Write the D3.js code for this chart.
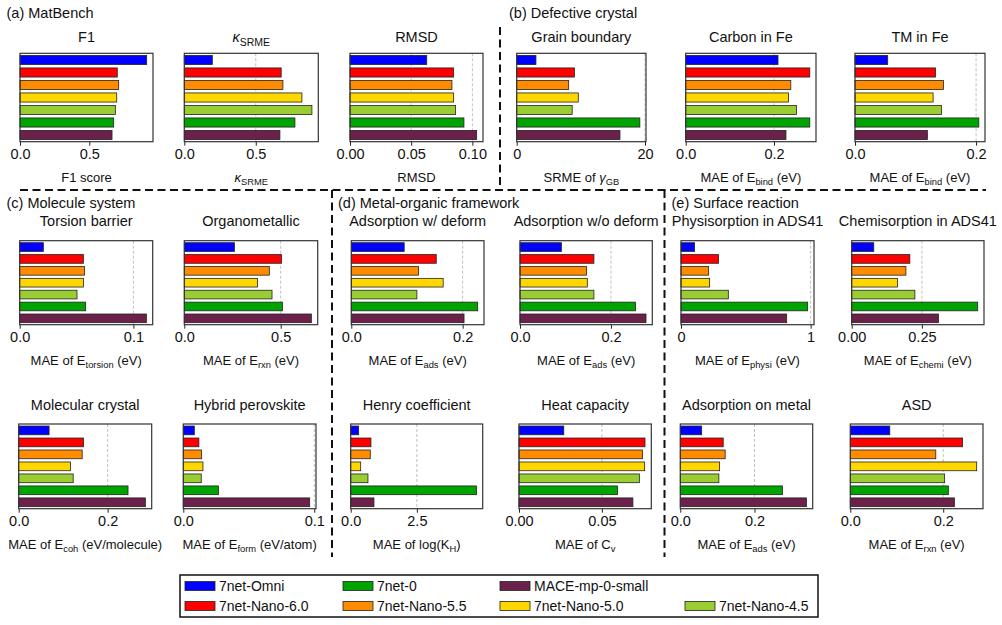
<!DOCTYPE html>
<html>
<head>
<meta charset="utf-8">
<script src="https://cdn.jsdelivr.net/npm/d3@7"></script>
<style>
  body { margin: 0; background: #fff; }
  svg { font-family: "Liberation Sans", Arial, sans-serif; }
</style>
</head>
<body>
<div id="chart"></div>
<script>
// models (bar order, top to bottom) and their colours
const models = ["7net-Omni", "7net-Nano-6.0", "7net-Nano-5.5", "7net-Nano-5.0", "7net-Nano-4.5", "7net-0", "MACE-mp-0-small"];
const modelColors = ["#0000ff", "#ff0000", "#ff8c00", "#ffd700", "#9acd32", "#00a400", "#6b2149"];

// values, one array per panel (same order as models)
const f1Score          = [0.914, 0.702, 0.712, 0.698, 0.688, 0.676, 0.664];
const kappaSrme        = [0.196, 0.678, 0.690, 0.823, 0.893, 0.774, 0.669];
const rmsd             = [0.0627, 0.0847, 0.0833, 0.0847, 0.0863, 0.0931, 0.1035];
const grainBoundary    = [3.0, 9.0, 8.1, 9.6, 8.65, 19.2, 16.1];
const carbonInFe       = [0.209, 0.281, 0.238, 0.233, 0.251, 0.281, 0.227];
const tmInFe           = [0.054, 0.133, 0.146, 0.129, 0.143, 0.2045, 0.1195];
const torsionBarrier   = [0.0208, 0.056, 0.0569, 0.056, 0.0504, 0.058, 0.1114];
const organometallic   = [0.26, 0.504, 0.441, 0.38, 0.455, 0.509, 0.659];
const adsWithDeform    = [0.095, 0.1526, 0.1207, 0.165, 0.1178, 0.227, 0.2025];
const adsWithoutDeform = [0.091, 0.1625, 0.146, 0.148, 0.1625, 0.254, 0.277];
const physisorption    = [0.105, 0.29, 0.213, 0.221, 0.365, 0.977, 0.815];
const chemisorption    = [0.0786, 0.207, 0.193, 0.163, 0.225, 0.4486, 0.309];
const molecularCrystal = [0.0683, 0.1457, 0.1427, 0.1164, 0.1225, 0.2458, 0.2848];
const hybridPerovskite = [0.0084, 0.0119, 0.014, 0.015, 0.0137, 0.0269, 0.0965];
const henryCoeff       = [0.30, 0.765, 0.74, 0.377, 0.652, 4.75, 0.878];
const heatCapacity     = [0.027, 0.076, 0.0745, 0.0758, 0.0726, 0.0594, 0.0687];
const adsOnMetal       = [0.0576, 0.1157, 0.121, 0.106, 0.104, 0.2755, 0.340];
const asdReaction      = [0.085, 0.2417, 0.184, 0.272, 0.203, 0.211, 0.224];

// section headings
const sections = ["(a) MatBench", "(b) Defective crystal", "(c) Molecule system", "(d) Metal-organic framework", "(e) Surface reaction"];

// panel text: title / x label as segments ({t, sub, it}), ticks, tick format
const panels = [
    {values: f1Score, title: [{t: "F1"}], label: [{t: "F1 score"}], ticks: [0, 0.5], fmt: ".1f", grid: false},
    {values: kappaSrme, title: [{t: "κ", it: true}, {t: "SRME", sub: true}], label: [{t: "κ", it: true}, {t: "SRME", sub: true}], ticks: [0, 0.5], fmt: ".1f"},
    {values: rmsd, title: [{t: "RMSD"}], label: [{t: "RMSD"}], ticks: [0, 0.05, 0.1], fmt: ".2f"},
    {values: grainBoundary, title: [{t: "Grain boundary"}], label: [{t: "SRME of "}, {t: "γ", it: true}, {t: "GB", sub: true}], ticks: [0, 20], fmt: ".0f"},
    {values: carbonInFe, title: [{t: "Carbon in Fe"}], label: [{t: "MAE of E"}, {t: "bind", sub: true}, {t: " (eV)"}], ticks: [0, 0.2], fmt: ".1f"},
    {values: tmInFe, title: [{t: "TM in Fe"}], label: [{t: "MAE of E"}, {t: "bind", sub: true}, {t: " (eV)"}], ticks: [0, 0.2], fmt: ".1f"},

    {values: torsionBarrier, title: [{t: "Torsion barrier"}], label: [{t: "MAE of E"}, {t: "torsion", sub: true}, {t: " (eV)"}], ticks: [0, 0.1], fmt: ".1f"},
    {values: organometallic, title: [{t: "Organometallic"}], label: [{t: "MAE of E"}, {t: "rxn", sub: true}, {t: " (eV)"}], ticks: [0, 0.5], fmt: ".1f"},
    {values: adsWithDeform, title: [{t: "Adsorption w/ deform"}], label: [{t: "MAE of E"}, {t: "ads", sub: true}, {t: " (eV)"}], ticks: [0, 0.2], fmt: ".1f"},
    {values: adsWithoutDeform, title: [{t: "Adsorption w/o deform"}], label: [{t: "MAE of E"}, {t: "ads", sub: true}, {t: " (eV)"}], ticks: [0, 0.2], fmt: ".1f"},
    {values: physisorption, title: [{t: "Physisorption in ADS41"}], label: [{t: "MAE of E"}, {t: "physi", sub: true}, {t: " (eV)"}], ticks: [0, 1], fmt: ".0f"},
    {values: chemisorption, title: [{t: "Chemisorption in ADS41"}], label: [{t: "MAE of E"}, {t: "chemi", sub: true}, {t: " (eV)"}], ticks: [0, 0.25], fmt: ".2f"},

    {values: molecularCrystal, title: [{t: "Molecular crystal"}], label: [{t: "MAE of E"}, {t: "coh", sub: true}, {t: " (eV/molecule)"}], ticks: [0, 0.2], fmt: ".1f"},
    {values: hybridPerovskite, title: [{t: "Hybrid perovskite"}], label: [{t: "MAE of E"}, {t: "form", sub: true}, {t: " (eV/atom)"}], ticks: [0, 0.1], fmt: ".1f"},
    {values: henryCoeff, title: [{t: "Henry coefficient"}], label: [{t: "MAE of log(K"}, {t: "H", sub: true}, {t: ")"}], ticks: [0, 2.5], fmt: ".1f"},
    {values: heatCapacity, title: [{t: "Heat capacity"}], label: [{t: "MAE of C"}, {t: "v", sub: true}], ticks: [0, 0.05], fmt: ".2f"},
    {values: adsOnMetal, title: [{t: "Adsorption on metal"}], label: [{t: "MAE of E"}, {t: "ads", sub: true}, {t: " (eV)"}], ticks: [0, 0.2], fmt: ".1f"},
    {values: asdReaction, title: [{t: "ASD"}], label: [{t: "MAE of E"}, {t: "rxn", sub: true}, {t: " (eV)"}], ticks: [0, 0.2], fmt: ".1f"}
];

// ---- layout (pixels) ----
const W = 1002, H = 625;
const rowTop = [53.3, 240.7, 424];
const rowHeight = [88.4, 84, 84.7];
const titleY = [42, 226, 410];
const panelLeft = [
    [20, 184.3, 350, 516.7, 685.7, 855],
    [19.7, 184.3, 351.3, 520, 681, 851.7],
    [18.7, 183.3, 350.7, 519, 680.3, 850.3]
];
const panelWidth = [
    [133, 134, 133, 129.3, 130.3, 130],
    [133, 133.4, 132.7, 132.3, 133, 132.3],
    [133, 132.7, 132, 132.3, 132.4, 132.7]
];
const sectionPos = [[6.5, 17.5], [509, 17.5], [6.5, 207.5], [338, 207.5], [671.5, 207.5]];

const svg = d3.select("#chart").append("svg")
    .attr("width", W)
    .attr("height", H);

// writes text made of plain / subscript / italic segments
function richText(sel, segs, size) {
    let shifted = false;
    segs.forEach(s => {
        let ts = sel.append("tspan").text(s.t);
        if (s.sub) {
            ts.attr("font-size", size * 0.72).attr("dy", shifted ? 0 : size * 0.25);
            shifted = true;
        } else {
            if (shifted) { ts.attr("dy", -size * 0.25); shifted = false; }
            ts.attr("font-size", size);
        }
        if (s.it) ts.attr("font-style", "italic");
    });
}

// section headings
sections.forEach((s, i) => {
    svg.append("text")
        .attr("x", sectionPos[i][0])
        .attr("y", sectionPos[i][1])
        .attr("font-size", 14.5)
        .attr("fill", "#111")
        .text(s);
});

// dashed separators
const sep = svg.append("g")
    .attr("stroke", "#111")
    .attr("stroke-width", 2)
    .attr("stroke-dasharray", "8,4.5")
    .attr("fill", "none");
sep.append("line").attr("x1", 500).attr("x2", 500).attr("y1", 27).attr("y2", 188);
sep.append("line").attr("x1", 20).attr("x2", 986).attr("y1", 190).attr("y2", 190);
sep.append("line").attr("x1", 332).attr("x2", 332).attr("y1", 190).attr("y2", 557);
sep.append("line").attr("x1", 664.5).attr("x2", 664.5).attr("y1", 190).attr("y2", 557);

// panels
panels.forEach((p, i) => {
    let r = Math.floor(i / 6), c = i % 6;
    let w = panelWidth[r][c], h = rowHeight[r];
    let g = svg.append("g")
        .attr("transform", `translate(${panelLeft[r][c]}, ${rowTop[r]})`);

    let x = d3.scaleLinear()
        .domain([0, d3.max(p.values) * 1.05])
        .range([0, w]);
    let y = d3.scaleBand()
        .domain(models)
        .range([0, h])
        .paddingInner(0.27)
        .paddingOuter(0.17);

    // grid at non-zero ticks
    if (p.grid !== false) {
        g.selectAll(".grid")
            .data(p.ticks.filter(t => t > 0))
            .enter().append("line")
            .attr("class", "grid")
            .attr("x1", d => x(d)).attr("x2", d => x(d))
            .attr("y1", 0).attr("y2", h)
            .attr("stroke", "#b0b0b0")
            .attr("stroke-width", 0.8)
            .attr("stroke-dasharray", "3,2");
    }

    // bars
    g.selectAll("rect.bar")
        .data(p.values)
        .enter().append("rect")
        .attr("class", "bar")
        .attr("x", x(0))
        .attr("y", (d, j) => y(models[j]))
        .attr("width", d => x(d) - x(0))
        .attr("height", y.bandwidth())
        .attr("fill", (d, j) => modelColors[j])
        .attr("stroke", "#222")
        .attr("stroke-width", 0.8);

    // x axis
    let xAxis = d3.axisBottom(x)
        .tickValues(p.ticks)
        .tickFormat(d3.format(p.fmt))
        .tickSize(4)
        .tickPadding(3);
    let ax = g.append("g")
        .attr("transform", `translate(0, ${h})`)
        .call(xAxis);
    ax.select(".domain").remove();
    ax.selectAll(".tick line").attr("stroke", "#222").attr("stroke-width", 1);
    ax.selectAll(".tick text")
        .attr("font-size", 14.5)
        .attr("font-family", "Liberation Sans, Arial, sans-serif")
        .attr("fill", "#111");

    // frame
    g.append("rect")
        .attr("width", w)
        .attr("height", h)
        .attr("fill", "none")
        .attr("stroke", "#333")
        .attr("stroke-width", 1.2);

    // title
    let title = g.append("text")
        .attr("x", w / 2)
        .attr("y", titleY[r] - rowTop[r])
        .attr("text-anchor", "middle")
        .attr("fill", "#111");
    richText(title, p.title, 14.5);

    // x label
    let lab = g.append("text")
        .attr("x", w / 2)
        .attr("y", h + 40)
        .attr("text-anchor", "middle")
        .attr("fill", "#111");
    richText(lab, p.label, 13);
});

// legend
const legendCols = [185, 343, 500, 685];
const legendRows = [586, 606];
// [column, row] slot for each model
const legendSlot = [[0, 0], [0, 1], [1, 1], [2, 1], [3, 1], [1, 0], [2, 0]];

svg.append("rect")
    .attr("x", 180).attr("y", 575)
    .attr("width", 638).attr("height", 42)
    .attr("fill", "#fff")
    .attr("stroke", "#111")
    .attr("stroke-width", 1.5);

const leg = svg.selectAll(".legend")
    .data(models)
    .enter().append("g")
    .attr("class", "legend")
    .attr("transform", (d, i) => `translate(${legendCols[legendSlot[i][0]]}, ${legendRows[legendSlot[i][1]]})`);

leg.append("rect")
    .attr("x", 0).attr("y", -4.5)
    .attr("width", 30).attr("height", 9)
    .attr("fill", (d, i) => modelColors[i])
    .attr("stroke", "#222")
    .attr("stroke-width", 0.8);

leg.append("text")
    .attr("x", 34)
    .attr("y", 5)
    .attr("font-size", 14)
    .attr("fill", "#111")
    .text(d => d);
</script>
</body>
</html>
